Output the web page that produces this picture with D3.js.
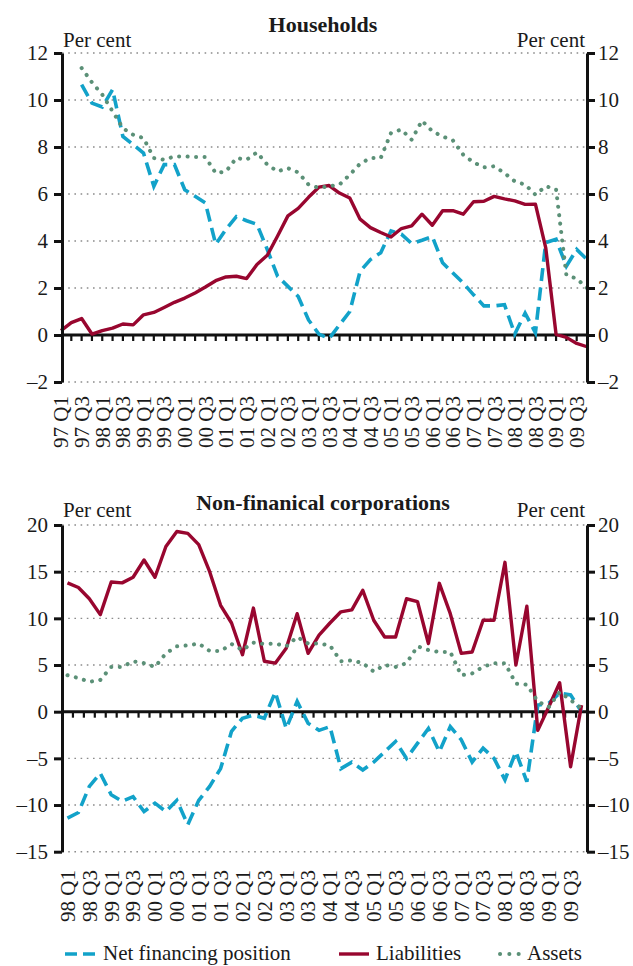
<!DOCTYPE html>
<html>
<head>
<meta charset="utf-8">
<script src="https://cdn.jsdelivr.net/npm/d3@7"></script>
<style>
  html, body { margin: 0; padding: 0; background: #fff; }
  svg text { font-family: "Liberation Serif", "DejaVu Serif", serif; fill: #1a1a1a; }
</style>
</head>
<body>
<svg id="chart" width="633" height="966"></svg>
<script>
// quarters: households 97Q1..09Q4, corporations 98Q1..09Q4
const hhYears = ['97','98','99','00','01','02','03','04','05','06','07','08','09'];
const nfcYears = ['98','99','00','01','02','03','04','05','06','07','08','09'];

// Households, per cent
const hhNet = [null,null,10.65,9.87,9.7,10.44,8.45,8.1,7.74,6.33,7.25,7.25,6.18,5.9,5.62,3.86,4.5,5.04,4.86,4.71,3.64,2.5,2.07,1.64,0.64,0.04,-0.15,0.43,1.0,2.71,3.21,3.5,4.43,4.29,3.89,4.03,4.19,3.07,2.64,2.21,1.71,1.24,1.24,1.29,0.04,0.93,0.1,3.93,4.07,2.93,3.64,3.21];
const hhLiabilities = [0.19,0.53,0.7,0.04,0.19,0.29,0.47,0.43,0.86,0.96,1.17,1.39,1.57,1.79,2.04,2.31,2.47,2.5,2.4,3.0,3.39,4.21,5.07,5.39,5.86,6.29,6.36,6.04,5.83,4.93,4.57,4.36,4.17,4.53,4.64,5.14,4.67,5.29,5.29,5.14,5.67,5.69,5.9,5.79,5.71,5.56,5.57,3.71,0.03,-0.1,-0.36,-0.5];
const hhAssets = [null,null,11.36,10.75,10.23,9.52,8.8,8.52,8.38,7.53,7.46,7.6,7.6,7.57,7.57,6.89,6.96,7.53,7.46,7.77,7.25,6.96,7.1,6.92,6.4,6.26,6.33,6.4,6.82,7.29,7.53,7.53,8.6,8.74,8.31,9.12,8.67,8.45,8.28,7.67,7.35,7.13,7.18,6.89,6.54,6.4,5.97,6.33,6.2,2.55,2.4,2.0];
const hhTicks = [-2,0,2,4,6,8,10,12];

// Non-financial corporations, per cent
const nfcNet = [-11.4,-10.8,-8.0,-6.6,-8.9,-9.6,-9.1,-10.7,-9.8,-10.7,-9.5,-12.1,-9.5,-8.0,-6.1,-2.1,-0.7,-0.36,-0.7,2.1,-1.8,1.1,-1.25,-2.0,-1.6,-6.1,-5.4,-6.25,-5.4,-4.3,-3.2,-5.0,-3.4,-1.8,-4.3,-1.6,-3.0,-5.4,-3.9,-5.0,-7.3,-4.3,-7.5,0.7,0.9,2.0,1.8,0];
const nfcLiabilities = [13.8,13.3,12.1,10.4,13.9,13.8,14.4,16.25,14.4,17.7,19.3,19.1,17.9,15.0,11.4,9.5,6.1,11.1,5.4,5.2,6.8,10.5,6.25,8.2,9.5,10.7,10.9,13.0,9.8,8.0,8.0,12.1,11.8,7.3,13.75,10.5,6.25,6.4,9.8,9.8,16.0,5.0,11.3,-2.0,0.5,3.1,-5.9,0.7];
const nfcAssets = [3.9,3.6,3.2,3.4,4.8,4.8,5.4,5.2,4.8,6.25,7.0,7.1,7.3,6.5,6.5,7.25,6.6,7.4,7.25,7.3,7.0,8.0,7.3,7.3,7.1,5.4,5.5,5.2,4.3,5.0,4.8,5.2,7.0,6.6,6.4,6.4,3.9,4.1,4.8,5.2,5.2,3.0,2.9,1.1,0.5,2.1,1.25,0.35];
const nfcTicks = [-15,-10,-5,0,5,10,15,20];

const colNet = '#12a2c9', colLiab = '#98062f', colAssets = '#5b9077';
const FS = 21;

const svg = d3.select('#chart');
const left = 62, right = 587;

function quarters(years) {
  const q = [];
  years.forEach(y => [1,2,3,4].forEach(n => q.push(y + ' Q' + n)));
  return q;
}

function drawPanel(opt) {
  const g = svg.append('g');
  const y = d3.scaleLinear().domain(opt.yDomain).range(opt.yRange);
  const xp = opt.xPos;
  const fmt = d => d < 0 ? '\u2013' + Math.abs(d) : '' + d;

  // title + units
  g.append('text').attr('x', 323).attr('y', opt.titleY).attr('text-anchor', 'middle')
    .style('font-size', '22px').style('font-weight', 'bold').text(opt.title);
  g.append('text').attr('x', left + 1).attr('y', opt.unitY).style('font-size', FS + 'px').text('Per cent');
  g.append('text').attr('x', right - 2).attr('y', opt.unitY).attr('text-anchor', 'end')
    .style('font-size', FS + 'px').text('Per cent');

  // dotted gridlines
  g.selectAll('.grid').data(opt.ticks.filter(d => d !== 0)).enter().append('line')
    .attr('x1', left).attr('x2', right).attr('y1', d => y(d)).attr('y2', d => y(d))
    .attr('stroke', '#8c8c8c').attr('stroke-width', 1.4).attr('stroke-dasharray', '1.6 4.6');

  // zero line with quarter ticks hanging below
  g.append('line').attr('x1', left).attr('x2', right).attr('y1', y(0)).attr('y2', y(0))
    .attr('stroke', '#111').attr('stroke-width', 3);
  g.selectAll('.qtick').data(opt.tickXs).enter().append('line')
    .attr('x1', d => d).attr('x2', d => d).attr('y1', y(0)).attr('y2', y(0) + 6)
    .attr('stroke', '#111').attr('stroke-width', 2.2);

  // series
  const line = d3.line().defined(d => d.v !== null).x(d => xp(d.q)).y(d => y(d.v));
  const rows = arr => arr.map((v, i) => ({ q: opt.cats[i], v: v }));
  g.append('path').datum(rows(opt.net)).attr('d', line).attr('fill', 'none')
    .attr('stroke', colNet).attr('stroke-width', 3.6).attr('stroke-dasharray', '13 6.5');
  g.append('path').datum(rows(opt.liab)).attr('d', line).attr('fill', 'none')
    .attr('stroke', colLiab).attr('stroke-width', 3.4).attr('stroke-linejoin', 'round');
  g.append('path').datum(rows(opt.assets)).attr('d', line).attr('fill', 'none')
    .attr('stroke', colAssets).attr('stroke-width', 4).attr('stroke-linecap', 'round')
    .attr('stroke-dasharray', '0.1 8.4');

  // y axes both sides
  const axL = g.append('g').attr('transform', 'translate(' + left + ',0)')
    .call(d3.axisLeft(y).tickValues(opt.ticks).tickSize(8).tickSizeOuter(0).tickPadding(6).tickFormat(fmt));
  const axR = g.append('g').attr('transform', 'translate(' + right + ',0)')
    .call(d3.axisRight(y).tickValues(opt.ticks).tickSize(8).tickSizeOuter(0).tickPadding(3).tickFormat(fmt));
  [axL, axR].forEach(ax => {
    ax.select('.domain').attr('stroke', '#111').attr('stroke-width', 3);
    ax.selectAll('.tick line').attr('stroke', '#111').attr('stroke-width', 3);
    ax.selectAll('.tick text').style('font-size', FS + 'px').attr('fill', '#1a1a1a')
      .style('font-family', '"Liberation Serif", serif');
  });

  // rotated quarter labels (Q1 and Q3)
  g.selectAll('.xl').data(opt.cats.filter(c => /Q[13]$/.test(c))).enter().append('text')
    .attr('transform', d => 'translate(' + xp(d) + ',' + opt.labelY + ') rotate(-90)')
    .attr('text-anchor', 'end').attr('dy', '0.35em').style('font-size', FS + 'px').text(d => d);
}

// Households: point positions on the axis edges
const hhCats = quarters(hhYears);
const xHH = d3.scalePoint().domain(hhCats).range([61, right]);
drawPanel({
  title: 'Households', titleY: 32, unitY: 47,
  yDomain: [-2, 12], yRange: [382, 53], ticks: hhTicks,
  cats: hhCats, xPos: xHH,
  tickXs: hhCats.slice(1, -1).map(c => xHH(c)),
  net: hhNet, liab: hhLiabilities, assets: hhAssets, labelY: 396
});

// Corporations: band centres
const nfcCats = quarters(nfcYears);
const xNFC = d3.scaleBand().domain(nfcCats).range([left, right]);
drawPanel({
  title: 'Non-finanical corporations', titleY: 510, unitY: 517,
  yDomain: [-15, 20], yRange: [851.7, 525], ticks: nfcTicks,
  cats: nfcCats, xPos: c => xNFC(c) + xNFC.bandwidth() / 2,
  tickXs: nfcCats.slice(1).map(c => xNFC(c)),
  net: nfcNet, liab: nfcLiabilities, assets: nfcAssets, labelY: 870
});

// legend
const lg = svg.append('g');
const ly = 954;
lg.append('line').attr('x1', 65).attr('x2', 95).attr('y1', ly).attr('y2', ly)
  .attr('stroke', colNet).attr('stroke-width', 3.6).attr('stroke-dasharray', '12 6');
lg.append('text').attr('x', 103).attr('y', ly + 6).style('font-size', FS + 'px').text('Net financing position');
lg.append('line').attr('x1', 339).attr('x2', 369).attr('y1', ly).attr('y2', ly)
  .attr('stroke', colLiab).attr('stroke-width', 3.4);
lg.append('text').attr('x', 376).attr('y', ly + 6).style('font-size', FS + 'px').text('Liabilities');
lg.append('line').attr('x1', 500).attr('x2', 519).attr('y1', ly).attr('y2', ly)
  .attr('stroke', colAssets).attr('stroke-width', 4).attr('stroke-linecap', 'round').attr('stroke-dasharray', '0.1 9.2');
lg.append('text').attr('x', 527).attr('y', ly + 6).style('font-size', FS + 'px').text('Assets');
</script>
</body>
</html>
